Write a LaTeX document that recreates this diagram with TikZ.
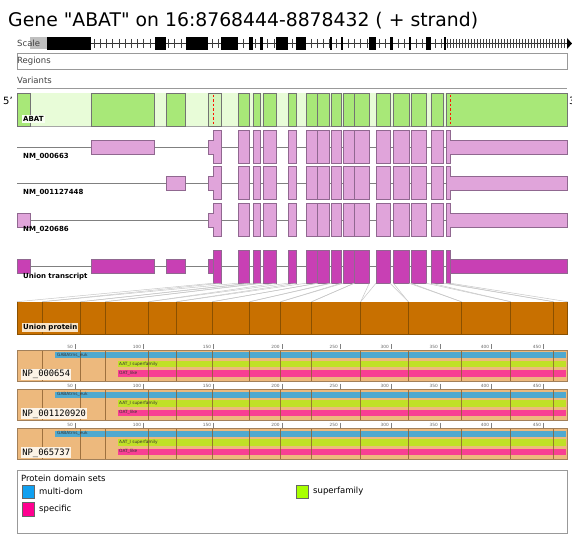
\documentclass[tikz,border=0pt]{standalone}
\usepackage{fontspec}
\setmainfont{DejaVu Sans}
\newfontfamily\titlefont{DejaVu Sans}
\newfontfamily\monofont{DejaVu Sans Mono}
\definecolor{genebg}{HTML}{E8FCD8}
\definecolor{geneexon}{HTML}{A8E878}
\definecolor{genepale}{HTML}{D4F4BC}
\definecolor{txfill}{HTML}{E0A4DA}
\definecolor{txline}{HTML}{906890}
\definecolor{unionfill}{HTML}{C840B4}
\definecolor{protfill}{HTML}{C87000}
\definecolor{protline}{HTML}{8A5000}
\definecolor{nptan}{HTML}{EDB97D}
\definecolor{npline}{HTML}{8B6030}
\definecolor{dommulti}{HTML}{40A8D8}
\definecolor{domsuper}{HTML}{BCE61E}
\definecolor{domspec}{HTML}{FA3296}
\definecolor{legmulti}{HTML}{10A0F0}
\definecolor{legsuper}{HTML}{A8FF00}
\definecolor{legspec}{HTML}{FF0090}
\definecolor{labbg}{HTML}{F8E4C8}

% coding exons, shared by every transcript (left/right)
\def\cdsmid{238/249,253/260,263/276,288/296.3,306.3/317.7,317.7/329.7,331.7/341,343.3/354.3,354.3/369.3,376/390,393.3/409,411/426,431.3/443.7}
\def\cdsall{213.5/221,238/249,253/260,263/276,288/296.3,306.3/317.7,317.7/329.7,331.7/341,343.3/354.3,354.3/369.3,376/390,393.3/409,411/426,431.3/443.7,446.3/450.5}
\def\protbounds{17,42.3,80.7,105.3,148.7,176.7,212.3,249.7,280.7,311.7,360.7,408.3,461.3,510.7,553.3,567.5}

\begin{document}
\begin{tikzpicture}[x=1pt,y=-1pt,
trackframe/.style = {draw=black!40, line width=0.6pt},
exonbox/.style = {fill=geneexon, draw=black!55, line width=0.6pt},
txbox/.style = {fill=txfill, draw=txline, line width=0.6pt},
unionbox/.style = {fill=unionfill, draw=txline, line width=0.6pt},
txwire/.style = {draw=black!50, line width=0.6pt},
maplink/.style = {draw=black!22, line width=0.5pt},
tracklabel/.style = {font=\bfseries\fontsize{7}{8}\selectfont, anchor=west, inner sep=1pt},
rowlabel/.style = {font=\fontsize{8.5}{10}\selectfont, text=black!75, anchor=west, inner sep=0pt},
rulerlabel/.style = {font=\fontsize{4.3}{5}\selectfont, text=black!60, anchor=east, inner sep=1pt},
domlabel/.style = {font=\fontsize{4.3}{5}\selectfont, text=black!80, anchor=west, inner sep=0pt},
legendtext/.style = {font=\fontsize{8.5}{10}\selectfont, anchor=west, inner sep=0pt},
legendsq/.style = {draw=black!60, line width=0.4pt}
]
\useasboundingbox (0,0) rectangle (572,535);

% title
\node [anchor=base west, inner sep=0, font=\titlefont\fontsize{18.8}{21}\selectfont] (title) at (8,27)
  {Gene "ABAT" on 16:8768444-8878432 ( + strand)};

% scale bar
\fill [black!25] (30,37.5) rectangle (47,49.5);
\node [rowlabel] (scale) at (17,43.5) {Scale};
\draw [black!80, line width=0.5pt] (47,43.5) -- (567,43.5);
\foreach \x in {94,100.2,...,446} \draw [black!75, line width=0.5pt] (\x,39) -- (\x,48);
\foreach \x in {447,450,...,566} \draw [black!75, line width=0.5pt] (\x,39) -- (\x,48);
\foreach \l/\r in {47/91,154.7/166.3,185.7/208.3,221/238,249/253,260/263,276/288,296.3/306.3,329.7/331.7,341/343.3,369.3/376,390/393.3,409/411,426/431.3,443.7/446.3}
  \fill [black] (\l,37) rectangle (\r,50);
\fill [black] (567,38) -- (572,43.5) -- (567,49) -- cycle;

% regions and variants
\draw [trackframe] (17,53.3) rectangle (567.3,69);
\node [rowlabel] (regions) at (17,61.5) {Regions};
\node [rowlabel] (variants) at (17,80.5) {Variants};
\draw [trackframe] (17,88) -- (567.3,88);

% gene track
\node [anchor=west, inner sep=0, font=\fontsize{10}{10}\selectfont] (five) at (3,101) {5'};
\node [anchor=west, inner sep=0, font=\fontsize{10}{10}\selectfont] (three) at (569,101) {3'};
\fill [genebg] (17,93.3) rectangle (567.5,126.7);
\draw [black!35, line width=0.6pt] (17,126.7) -- (567.5,126.7);
\foreach \l/\r in {17/30.7,91/154.7,166.3/185.7}
  \draw [exonbox] (\l,93.3) rectangle (\r,126.7);
\draw [exonbox, fill=genepale] (208.3,93.3) rectangle (221,126.7);
\foreach \l/\r in \cdsmid
  \draw [exonbox] (\l,93.3) rectangle (\r,126.7);
\draw [exonbox] (446.3,93.3) rectangle (567.5,126.7);
\draw [red!85!orange, dash pattern=on 2.5pt off 2pt, line width=0.8pt] (213.5,94.5) -- (213.5,126);
\draw [red!85!orange, dash pattern=on 2.5pt off 2pt, line width=0.8pt] (450.5,94.5) -- (450.5,126);
\node [tracklabel, fill=white!70!genebg] (abat) at (22,119) {ABAT};

% transcripts
\foreach \c in {147,183,220} {
  \draw [txwire] (17,\c) -- (567.5,\c);
  \draw [txbox] (208.3,\c-7) -- (213.5,\c-7) -- (213.5,\c-16.5) -- (221,\c-16.5)
    -- (221,\c+16.5) -- (213.5,\c+16.5) -- (213.5,\c+7) -- (208.3,\c+7) -- cycle;
  \foreach \l/\r in \cdsmid
    \draw [txbox] (\l,\c-16.5) rectangle (\r,\c+16.5);
  \draw [txbox] (446.3,\c-16.5) -- (450.5,\c-16.5) -- (450.5,\c-7) -- (567.5,\c-7)
    -- (567.5,\c+7) -- (450.5,\c+7) -- (450.5,\c+16.5) -- (446.3,\c+16.5) -- cycle;
}
\draw [txbox] (91,140) rectangle (154.7,154);
\draw [txbox] (166.3,176) rectangle (185.7,190);
\draw [txbox] (17,213) rectangle (30.7,227);
\node [tracklabel] (nm663) at (22,157) {NM\_000663};
\node [tracklabel] (nm448) at (22,193) {NM\_001127448};
\node [tracklabel] (nm686) at (22,229.5) {NM\_020686};

% union transcript
\draw [txwire] (17,266.7) -- (567.5,266.7);
\foreach \l/\r in {17/30.7,91/154.7,166.3/185.7,208.3/213.5}
  \draw [unionbox] (\l,259.7) rectangle (\r,273.7);
\foreach \l/\r in \cdsall
  \draw [unionbox] (\l,250.2) rectangle (\r,283.2);
\draw [unionbox] (450.5,259.7) rectangle (567.5,273.7);
\node [tracklabel] (union) at (22,276.5) {Union transcript};

% union protein
\fill [protfill] (17,301.7) rectangle (567.5,334.3);
\foreach \p [count=\i from 0] in \protbounds {
  \coordinate (pb\i) at (\p,301.7);
  \draw [protline, line width=0.6pt] (\p,301.7) -- (\p,334.3);
}
\draw [protline, line width=0.6pt] (17,334.3) -- (567.5,334.3);
\node [tracklabel, fill=labbg] (uprot) at (22,327.5) {Union protein};

% exon to protein links
\foreach \l/\r [count=\i, evaluate=\i as \j using int(\i-1)] in \cdsall {
  \coordinate (el\i) at (\l,283.2);
  \coordinate (er\i) at (\r,283.2);
  \draw [maplink] (el\i) -- (pb\j);
  \draw [maplink] (er\i) -- (pb\i);
}

% protein tracks
\foreach \t/\lab [count=\k] in {350/NP\_000654,389.5/NP\_001120920,428.5/NP\_065737} {
  \fill [nptan] (17,\t) rectangle (567.5,\t+31);
  \fill [dommulti, opacity=0.9] (55.3,\t+2.3) rectangle (566,\t+8.3);
  \fill [domsuper, opacity=0.9] (117.7,\t+10.7) rectangle (566,\t+17.3);
  \fill [domspec, opacity=0.9] (117.7,\t+20) rectangle (566,\t+26.7);
  \foreach \p in {42.3,80.7,105.3,148.7,176.7,212.3,249.7,280.7,311.7,360.7,408.3,461.3,510.7,553.3}
    \draw [npline, opacity=0.8, line width=0.6pt] (\p,\t) -- (\p,\t+31);
  \draw [npline!80, line width=0.6pt] (17,\t) rectangle (567.5,\t+31);
  \node [domlabel] (dm\k) at (57,\t+5.3) {GABAtrns\_euk};
  \node [domlabel] (ds\k) at (119,\t+14) {AAT\_I superfamily};
  \node [domlabel] (dp\k) at (119,\t+23.3) {OAT\_like};
  \foreach \x/\v in {75/50,143.3/100,213.3/150,281.7/200,340/250,391/300,440/350,491.3/400,543.3/450} {
    \draw [black!50, line width=0.4pt] (\x,\t-6) -- (\x,\t-1);
    \node [rulerlabel] at (\x-1,\t-3.5) {\v};
  }
  \node [anchor=west, inner sep=1.2pt, fill=labbg!45!white, font=\monofont\fontsize{8.8}{9}\selectfont] (np\k) at (21,\t+24.3) {\lab};
}

% legend
\draw [trackframe] (17,470) rectangle (567,533);
\node [legendtext] (legtitle) at (21,478.5) {Protein domain sets};
\draw [legendsq, fill=legmulti] (22,485) rectangle (34,498);
\node [legendtext] (legmulti) at (39,491.5) {multi-dom};
\draw [legendsq, fill=legspec] (22,502) rectangle (34,516);
\node [legendtext] (legspec) at (39,509.5) {specific};
\draw [legendsq, fill=legsuper] (296,485) rectangle (308,498);
\node [legendtext] (legsuper) at (313,491.5) {superfamily};

\end{tikzpicture}
\end{document}
